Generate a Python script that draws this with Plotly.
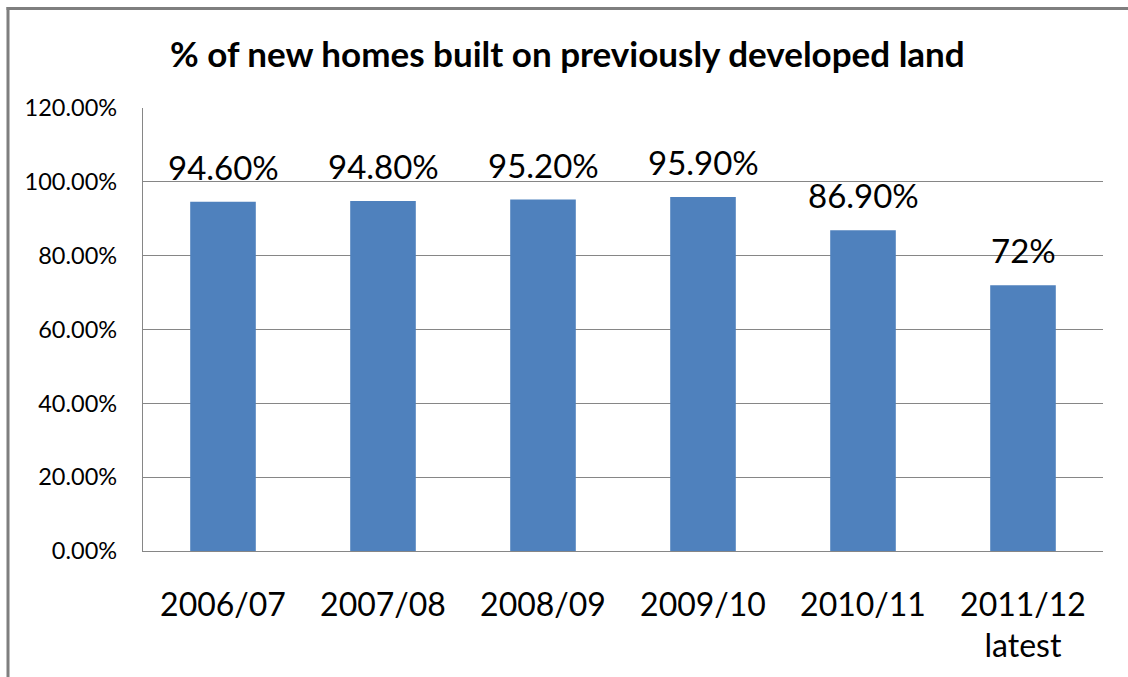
import plotly.graph_objects as go

categories = ["2006/07", "2007/08", "2008/09", "2009/10", "2010/11", "2011/12<br>latest"]
values = [94.6, 94.8, 95.2, 95.9, 86.9, 72.0]
value_labels = ["94.60%", "94.80%", "95.20%", "95.90%", "86.90%", "72%"]
y_ticks = [0, 20, 40, 60, 80, 100, 120]
y_tick_labels = ["0.00%", "20.00%", "40.00%", "60.00%", "80.00%", "100.00%", "120.00%"]

FONT = "Lato, Open Sans, sans-serif"
GRAY = "#868686"

fig = go.Figure()
fig.add_trace(go.Bar(x=categories, y=values, marker=dict(color="#4F81BD", line=dict(width=0)),
                     hoverinfo="skip"))

for c, v, t in zip(categories, values, value_labels):
    fig.add_annotation(x=c, y=v, text=t, showarrow=False, yanchor="bottom", yshift=13,
                       font=dict(family=FONT, size=33, color="black"))

# outer frame (extends past right/bottom edges)
plot_l, plot_r, plot_t, plot_b = 143, 1103, 108, 551
W = plot_r - plot_l
H = plot_b - plot_t
def px(xp):
    return (xp - plot_l) / W
def py(yp):
    return (plot_b - yp) / H
fig.add_shape(type="line", xref="paper", yref="paper", x0=px(6.5), x1=px(1128), y0=py(8.5), y1=py(8.5),
              line=dict(color="#7F7F7F", width=3))
fig.add_shape(type="line", xref="paper", yref="paper", x0=px(8), x1=px(8), y0=py(7), y1=py(677),
              line=dict(color="#7F7F7F", width=3))

fig.update_layout(
    width=1128, height=677,
    margin=dict(l=plot_l, r=1128 - plot_r, t=plot_t, b=677 - plot_b),
    paper_bgcolor="white", plot_bgcolor="white",
    bargap=0.59, showlegend=False,
    title=dict(text="<b>% of new homes built on previously developed land</b>",
               x=0.503, xanchor="center", y=1 - 55 / 677, yanchor="middle",
               font=dict(family=FONT, size=35, color="black")),
    font=dict(family=FONT, color="black"),
)
fig.update_yaxes(range=[0, 120], tickvals=y_ticks, ticktext=y_tick_labels,
                 showgrid=True, gridcolor=GRAY, gridwidth=1.3,
                 showline=True, linecolor=GRAY, linewidth=1.3, ticks="",
                 ticklabelstandoff=20, tickfont=dict(family=FONT, size=23.5, color="black"),
                 zeroline=False, fixedrange=True)
fig.update_xaxes(showline=True, linecolor=GRAY, linewidth=1.3, ticks="", showgrid=False,
                 ticklabelstandoff=25, tickfont=dict(family=FONT, size=32, color="black"),
                 fixedrange=True)

post = (
    "var s=document.createElement('style');"
    "s.textContent='html,body{margin:0;padding:0;overflow:hidden;}::-webkit-scrollbar{display:none;width:0;height:0;}';"
    "document.head.appendChild(s);"
)
fig.write_html("out.html", config={"displayModeBar": False}, post_script=post)
